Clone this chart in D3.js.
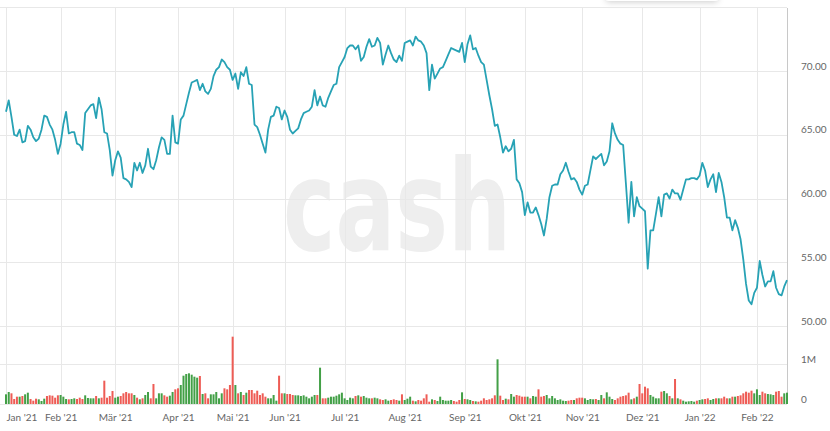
<!DOCTYPE html>
<html>
<head>
<meta charset="utf-8">
<script src="https://cdnjs.cloudflare.com/ajax/libs/d3/7.8.5/d3.min.js"></script>
<style>
  html, body { margin: 0; padding: 0; background: #ffffff; }
  svg { display: block; font-family: Lato, "Open Sans", sans-serif; }
</style>
</head>
<body>
<svg id="chart" width="830" height="431"></svg>
<script>
// ---- DATA (closing prices per trading day, grouped by month) ----
const monthLabels = ["Jan '21","Feb '21","Mär '21","Apr '21","Mai '21","Jun '21","Jul '21","Aug '21","Sep '21","Okt '21","Nov '21","Dez '21","Jan '22","Feb '22"];

const priceJan21 = [66.8,67.7,66.4,65.0,64.9,65.4,64.4,64.5,65.7,65.4,64.8,64.5,64.7,65.4,66.5,66.4,65.8,65.4,64.6,63.5];
const priceFeb21 = [64.3,65.8,66.8,65.1,65.2,65.2,64.3,64.2,63.8,66.7,67.0,67.3,67.4,66.3,67.9,67.0,65.2,65.1,63.8,61.8];
const priceMar21 = [63.0,63.7,63.2,61.6,61.5,61.3,60.9,62.8,62.2,62.8,62.0,62.6,63.9,62.5,62.3,63.0,64.0,64.8,64.6,63.5,63.5,66.5,64.4];
const priceApr21 = [64.3,66.2,66.5,67.4,68.3,69.1,69.2,69.3,68.5,69.0,68.4,68.2,68.6,69.6,70.1,70.3,70.9,70.7,70.3,70.1];
const priceMai21 = [69.3,69.8,68.6,69.9,69.6,70.3,69.0,68.9,65.8,65.6,65.0,64.3,63.6,65.4,66.4,66.5,67.2,67.1,66.2];
const priceJun21 = [66.9,66.4,65.4,65.1,65.3,65.5,66.2,66.7,66.8,66.9,67.2,68.5,67.3,68.0,67.3,67.2,67.9,68.4,68.9,69.0,70.3,70.7];
const priceJul21 = [71.1,71.8,72.0,72.0,71.7,72.0,70.8,71.1,71.9,72.5,71.9,72.0,72.6,72.2,70.5,71.3,72.0,71.4,70.9,70.7,71.2,70.8];
const priceAug21 = [72.2,72.3,72.4,72.0,72.7,72.4,72.3,72.0,71.4,68.5,70.5,69.4,69.8,70.2,70.3,70.8,71.3,71.8,71.7,71.6,71.5,72.2];
const priceSep21 = [70.7,72.1,72.8,71.7,71.8,71.2,70.7,70.5,69.3,68.1,67.0,65.7,65.8,64.8,63.6,64.1,63.7,63.9,64.6,61.5,61.2,60.5];
const priceOkt21 = [58.7,59.7,58.9,58.9,59.3,58.7,58.0,57.1,58.4,60.1,61.0,61.1,61.1,61.9,62.2,62.8,62.1,61.5,61.6,61.3,60.7];
const priceNov21 = [60.3,61.0,61.1,62.2,63.3,63.1,63.3,63.5,62.6,62.9,63.7,65.9,65.1,64.6,64.3,64.2,61.2,58.1,61.3,58.6,60.1,59.4];
const priceDez21 = [59.2,59.0,54.5,57.5,57.5,58.8,60.1,58.6,60.3,60.4,60.0,60.7,60.4,60.4,59.9,60.7,61.5,61.5,61.6,61.6,61.5];
const priceJan22 = [61.8,62.8,62.2,60.9,61.5,61.9,60.5,62.0,61.3,60.1,58.5,58.5,57.5,58.3,57.7,56.8,55.2,53.3,52.0,51.7,52.6];
const priceFeb22 = [53.0,55.1,54.0,53.1,53.5,53.5,54.3,53.0,52.5,52.4,53.1,53.6];

// daily volume, thousands of shares
const volJan21 = [242,300,267,125,183,183,200,242,283,125,83,133,117,75,133,200,217,208,158,217];
const volFeb21 = [225,183,125,117,125,142,125,158,125,217,150,142,142,200,142,158,583,158,200,325];
const volMar21 = [158,183,200,267,300,267,267,225,158,117,142,225,300,142,500,142,267,267,217,183,208,300,367];
const volApr21 = [392,475,708,750,767,733,683,658,700,250,267,142,242,242,300,142,267,392,367,475];
const volMai21 = [1683,475,267,300,225,283,350,350,267,333,225,267,183,142,142,225,83,708,267];
const volJun21 = [267,250,250,225,217,217,200,217,183,142,183,225,225,908,142,142,158,183,183,208,242,283];
const volJul21 = [142,100,158,142,200,217,183,200,158,142,142,158,142,117,100,117,83,100,117,100,83,242];
const volAug21 = [100,133,183,83,67,100,83,142,242,58,117,100,75,183,100,83,83,100,75,58,100,292];
const volSep21 = [125,117,100,75,67,58,83,142,100,117,142,217,1117,208,100,133,117,250,183,225,208,183];
const volOkt21 = [183,183,142,200,183,367,183,200,225,142,200,142,100,117,83,75,83,100,100,142,158];
const volNov21 = [158,142,100,125,117,125,100,225,142,292,183,125,100,142,183,200,217,283,117,142,183,500];
const volDez21 = [267,433,392,225,183,142,142,308,325,267,200,142,625,142,117,83,58,67,75,58,83];
const volJan22 = [100,117,125,142,100,125,142,142,142,183,142,142,183,183,200,217,267,308,283,333,267];
const volFeb22 = [367,225,308,267,250,242,225,308,325,183,267,283];

const priceTicks = [50, 55, 60, 65, 70];
const volumeTicks = [0, 1000000];
const volumeTickLabels = ["0", "1M"];

// ---- BUILD ----
const priceMonths = [priceJan21,priceFeb21,priceMar21,priceApr21,priceMai21,priceJun21,priceJul21,priceAug21,priceSep21,priceOkt21,priceNov21,priceDez21,priceJan22,priceFeb22];
const volMonths = [volJan21,volFeb21,volMar21,volApr21,volMai21,volJun21,volJul21,volAug21,volSep21,volOkt21,volNov21,volDez21,volJan22,volFeb22];

const prices = priceMonths.flat();
const volumes = volMonths.flat().map(v => v * 1000);
const monthStarts = [];
{ let c = 0; priceMonths.forEach(m => { monthStarts.push(c); c += m.length; }); }
const N = prices.length;

const svg = d3.select("#chart");
const plotLeft = 0, plotRight = 787, plotTop = 8, volBase = 404;

const x = d3.scaleLinear().domain([0, N - 1]).range([6, 787]);
const yP = d3.scaleLinear().domain([50, 70]).range([326, 71]);
const yV = d3.scaleLinear().domain([0, 1000000]).range([404, 364]);

// shadow of a box just above the view (top right)
const defs = svg.append("defs");
const f = defs.append("filter").attr("id","sh").attr("x","-50%").attr("y","-50%").attr("width","200%").attr("height","200%");
f.append("feDropShadow").attr("dx",0).attr("dy",1).attr("stdDeviation",3).attr("flood-color","#000").attr("flood-opacity",0.2);
svg.append("rect").attr("x",606).attr("y",-40).attr("width",112).attr("height",41)
  .attr("rx",3).attr("fill","#fff").attr("filter","url(#sh)");

// watermark
svg.append("text")
  .attr("x", 283).attr("y", 250)
  .attr("textLength", 228).attr("lengthAdjust", "spacingAndGlyphs")
  .style("font-family", "'DejaVu Sans', sans-serif").style("font-weight", 700)
  .style("font-size", "126px").attr("fill", "#eeeeee")
  .text("cash");

// grid
const grid = svg.append("g").attr("stroke", "#e8e8e8").attr("stroke-width", 1);
[50,55,60,65,70,75].forEach(t => {
  grid.append("line").attr("x1", plotLeft).attr("x2", plotRight)
    .attr("y1", Math.round(yP(t)) + 0.5).attr("y2", Math.round(yP(t)) + 0.5);
});
volumeTicks.forEach(t => {
  grid.append("line").attr("x1", plotLeft).attr("x2", plotRight)
    .attr("y1", Math.round(yV(t)) + 0.5).attr("y2", Math.round(yV(t)) + 0.5);
});
monthStarts.forEach(i => {
  grid.append("line").attr("x1", Math.round(x(i)) + 0.5).attr("x2", Math.round(x(i)) + 0.5)
    .attr("y1", plotTop).attr("y2", volBase);
});
// right border
svg.append("line").attr("x1", plotRight + 0.5).attr("x2", plotRight + 0.5)
  .attr("y1", plotTop).attr("y2", volBase).attr("stroke", "#c8c8c8");

// volume bars
const bw = 2.0;
svg.append("g").selectAll("rect").data(volumes).join("rect")
  .attr("x", (d, i) => x(i) - bw / 2)
  .attr("y", d => yV(d))
  .attr("width", bw)
  .attr("height", d => yV(0) - yV(d))
  .attr("fill", (d, i) => (i === 0 || prices[i] >= prices[i - 1]) ? "#43a047" : "#ee5c55");

// price line
svg.append("path").datum(prices)
  .attr("fill", "none").attr("stroke", "#27a2b5").attr("stroke-width", 1.8)
  .attr("stroke-linejoin", "round")
  .attr("d", d3.line().x((d, i) => x(i)).y(d => yP(d)));

// right price axis
const ax1 = svg.append("g").attr("transform", "translate(801,0)")
  .call(d3.axisRight(yP).tickValues(priceTicks).tickFormat(d3.format(".2f")).tickSize(0).tickPadding(0));
ax1.select(".domain").remove();
ax1.selectAll("text").attr("y", -5).attr("fill", "#666").style("font-size", "10px").style("font-family", "Lato, sans-serif");

// right volume axis
const ax2 = svg.append("g").attr("transform", "translate(801,0)")
  .call(d3.axisRight(yV).tickValues(volumeTicks).tickFormat((d, i) => volumeTickLabels[i]).tickSize(0).tickPadding(0));
ax2.select(".domain").remove();
ax2.selectAll("text").attr("y", -5).attr("fill", "#666").style("font-size", "10px").style("font-family", "Lato, sans-serif");

// bottom month axis
const ax3 = svg.append("g").attr("transform", "translate(0,404)")
  .call(d3.axisBottom(x).tickValues(monthStarts).tickFormat((d, i) => monthLabels[i]).tickSize(0).tickPadding(10));
ax3.select(".domain").remove();
ax3.selectAll("text").attr("fill", "#666").style("font-size", "10px").style("font-family", "Lato, sans-serif");
ax3.selectAll(".tick").filter((d, i) => i === 0).select("text").attr("text-anchor", "start").attr("x", 0);
</script>
</body>
</html>
